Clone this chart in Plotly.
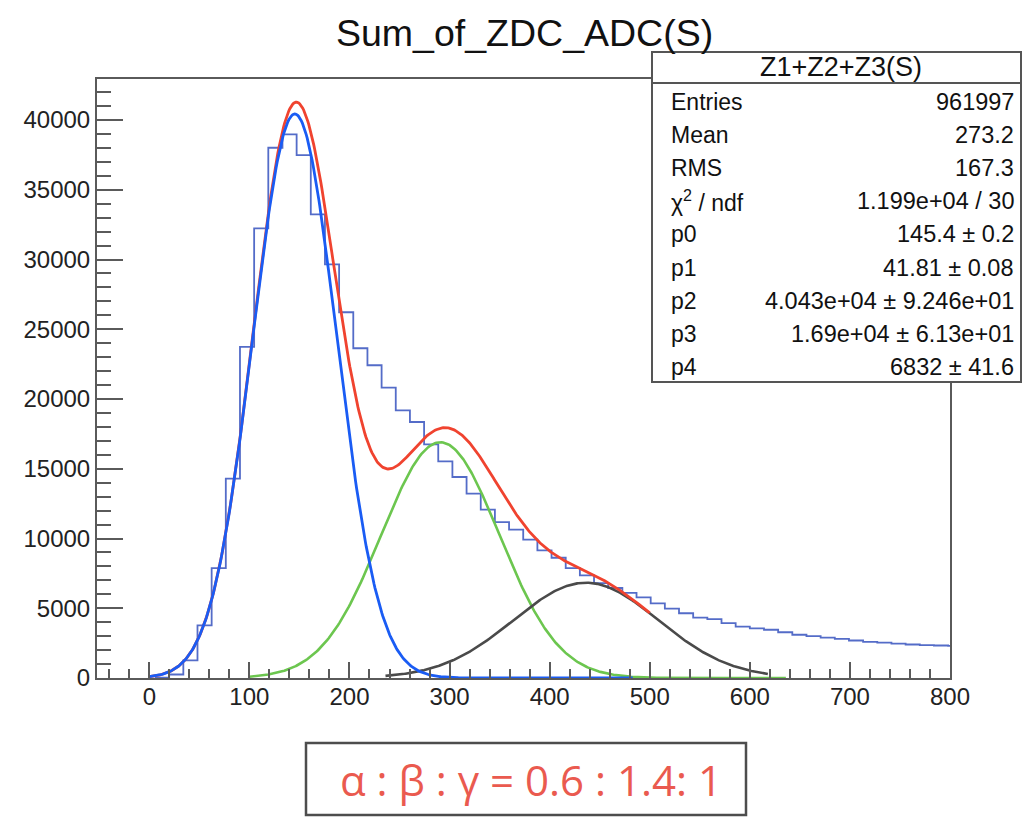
import numpy as np
import plotly.graph_objects as go

# ---------------- data ----------------
title_text = "Sum_of_ZDC_ADC(S)"
stats_title = "Z1+Z2+Z3(S)"
stats_labels = ["Entries", "Mean", "RMS", "χ<sup>2</sup> / ndf", "p0", "p1", "p2", "p3", "p4"]
stats_values = ["961997", "273.2", "167.3", "1.199e+04 / 30", "145.4 ± 0.2", "41.81 ± 0.08",
                "4.043e+04 ± 9.246e+01", "1.69e+04 ± 6.13e+01", "6832 ± 41.6"]

# histogram binning and counts
bin_lo = 5.7
bin_width = 14.15
counts = [30, 250, 1260, 3770, 7880, 14290, 23730, 32230, 38010, 38970,
          37490, 33230, 29650, 26220, 23640, 22420, 20820, 19190, 18350, 16750,
          15530, 14410, 13220, 12070, 11180, 10630, 9920, 9150, 8620, 7880,
          7350, 6800, 6450, 6100, 5780, 5350, 4980, 4640, 4330, 4220,
          3930, 3690, 3560, 3460, 3280, 3100, 3000, 2890, 2810, 2690,
          2590, 2530, 2460, 2400, 2350, 2330, 2310]

# fit parameters (from the stats box)
p0, p1, p2, p3, p4 = 145.4, 41.81, 4.043e4, 1.69e4, 6832.0

# drawing ranges of the fitted functions
red_range = (0, 500)
blue_range = (0, 483)
green_range = (100, 636)
black_range = (236, 618)

x_ticks = [0, 100, 200, 300, 400, 500, 600, 700, 800]
ratio_text = "α : β : γ = 0.6 : 1.4: 1"

# ---------------- figure ----------------
W, H = 1034, 819
L, R, T, B = 97, 950, 79, 678


def xp(px):
    return (px - L) / (R - L)


def yp(py):
    return (B - py) / (B - T)


def g1(x):
    return p2 * np.exp(-0.5 * ((x - p0) / p1) ** 2)


def g2(x):
    return p3 * np.exp(-0.5 * ((x - 2 * p0) / (np.sqrt(2) * p1)) ** 2)


def g3(x):
    return p4 * np.exp(-0.5 * ((x - 3 * p0) / (np.sqrt(3) * p1)) ** 2)


fig = go.Figure()

edges = [bin_lo + i * bin_width for i in range(len(counts) + 1)]
hx = edges
hy = counts + [counts[-1]]
fig.add_trace(go.Scatter(x=hx, y=hy, mode="lines", line=dict(color="#546cc8", width=1.8, shape="hv"),
                         hoverinfo="skip"))

xs = np.linspace(*green_range, 400)
fig.add_trace(go.Scatter(x=xs, y=g2(xs), mode="lines", line=dict(color="#6cc64f", width=2.6)))
xs = np.linspace(*black_range, 400)
fig.add_trace(go.Scatter(x=xs, y=g3(xs), mode="lines", line=dict(color="#4a4a4a", width=2.6)))
xs = np.linspace(*red_range, 500)
fig.add_trace(go.Scatter(x=xs, y=g1(xs) + g2(xs) + g3(xs), mode="lines", line=dict(color="#f0432f", width=2.8)))
xs = np.linspace(*blue_range, 500)
fig.add_trace(go.Scatter(x=xs, y=g1(xs), mode="lines", line=dict(color="#1a5cf4", width=2.8)))

axis_col = "#5a5a5a"
fig.update_xaxes(range=[-52.25, 800], tickvals=x_ticks, ticks="inside", ticklen=16, tickwidth=2,
                 tickcolor=axis_col, showline=True, linecolor=axis_col, linewidth=2, mirror=True,
                 showgrid=False, zeroline=False, ticklabelstandoff=-4,
                 minor=dict(ticks="inside", ticklen=9, dtick=20, tick0=0, tickcolor=axis_col,
                            tickwidth=1.6, showgrid=False),
                 tickfont=dict(size=24, color="#222", family="Liberation Sans, Arial"))
fig.update_yaxes(range=[0, 42940], dtick=5000, tick0=0, tickformat="d", ticks="inside", ticklen=26,
                 tickwidth=2, tickcolor=axis_col, showline=True, linecolor=axis_col, linewidth=2,
                 mirror=True, showgrid=False, zeroline=False,
                 minor=dict(ticks="inside", ticklen=14, dtick=1000, tick0=0, tickcolor=axis_col,
                            tickwidth=1.6, showgrid=False),
                 tickfont=dict(size=24, color="#222", family="Liberation Sans, Arial"))

shapes = []
annotations = []

# title
annotations.append(dict(x=xp(524), y=yp(33), xref="paper", yref="paper", text=title_text,
                        showarrow=False, xanchor="center", yanchor="middle",
                        font=dict(size=37.5, color="#111", family="Liberation Sans, Arial")))

# stats box
shapes.append(dict(type="rect", xref="paper", yref="paper", x0=xp(652), x1=xp(1021), y0=yp(382), y1=yp(52),
                   line=dict(color="#555", width=2), fillcolor="white", layer="above"))
shapes.append(dict(type="line", xref="paper", yref="paper", x0=xp(652), x1=xp(1021), y0=yp(83), y1=yp(83),
                   line=dict(color="#555", width=2), layer="above"))
annotations.append(dict(x=xp(841), y=yp(67), xref="paper", yref="paper", text=stats_title,
                        showarrow=False, xanchor="center", yanchor="middle",
                        font=dict(size=27, color="#111", family="Liberation Sans, Arial")))
for i, (lab, val) in enumerate(zip(stats_labels, stats_values)):
    yy = 102 + i * 33.1
    annotations.append(dict(x=xp(669), y=yp(yy), xref="paper", yref="paper", text=lab,
                            showarrow=False, xanchor="left", yanchor="middle",
                            font=dict(size=23, color="#111", family="Liberation Sans, Arial")))
    annotations.append(dict(x=xp(1016), y=yp(yy), xref="paper", yref="paper", text=val,
                            showarrow=False, xanchor="right", yanchor="middle",
                            font=dict(size=23.5, color="#111", family="Liberation Sans, Arial")))

# ratio box at bottom
shapes.append(dict(type="rect", xref="paper", yref="paper", x0=xp(306), x1=xp(746), y0=yp(815), y1=yp(743),
                   line=dict(color="#4d4d4d", width=2.5), fillcolor="rgba(0,0,0,0)", layer="above"))
annotations.append(dict(x=xp(531), y=yp(779), xref="paper", yref="paper", text=ratio_text,
                        showarrow=False, xanchor="center", yanchor="middle",
                        font=dict(size=42, color="#ea5a4f", family="Open Sans")))

fig.update_layout(width=W, height=H, margin=dict(l=L, r=W - R, t=T, b=H - B),
                  plot_bgcolor="white", paper_bgcolor="white", showlegend=False,
                  shapes=shapes, annotations=annotations)

fig.write_html("out.html", config={"displayModeBar": False},
               post_script="document.body.style.margin='0';document.body.style.overflow='hidden';")
